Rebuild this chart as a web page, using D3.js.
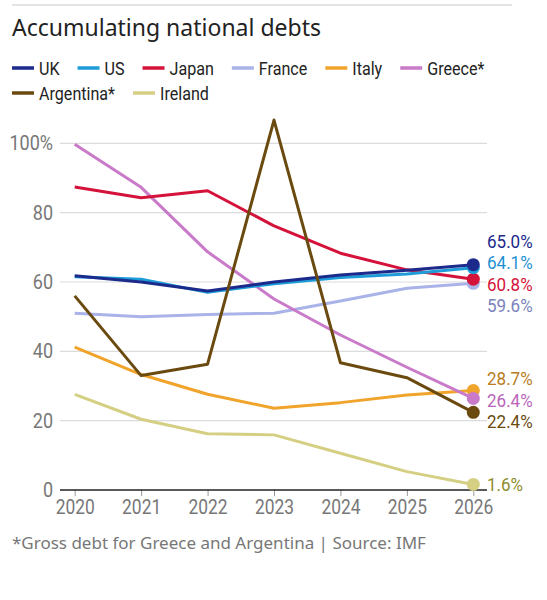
<!DOCTYPE html>
<html lang="en">
<head>
<meta charset="UTF-8">
<title>Accumulating national debts</title>
<script src="https://cdn.jsdelivr.net/npm/d3@7"></script>
<style>
  body{margin:0;background:#fff;}
  .narrow, .narrow text{font-family:Roboto,"Liberation Sans",sans-serif;}
  .grid line{stroke:#dcdcdc;stroke-width:1.2;}
</style>
</head>
<body>
<div id="root"></div>
<script>
  // data
  let years = [2020,2021,2022,2023,2024,2025,2026]
  let countries = ["UK","US","Japan","France","Italy","Greece*","Argentina*","Ireland"]
  let colors = ["#1c2a8c","#1e9cd8","#d5123a","#a9b3e8","#f1a42b","#c97ac9","#6b4a10","#d4cf82"]
  let labelColors = ["#1c2a8c","#1e90cf","#d5123a","#7a82bc","#b87d1c","#b964b9","#6b4a10","#8e8b2c"]
  let uk = [61.8,60.0,57.4,60.0,62.0,63.4,65.0]
  let us = [61.5,60.8,57.0,59.5,61.3,62.3,64.1]
  let japan = [87.4,84.3,86.3,76.2,68.3,63.5,60.8]
  let france = [51.0,50.0,50.6,51.0,54.5,58.2,59.6]
  let italy = [41.2,33.3,27.6,23.6,25.2,27.4,28.7]
  let greece = [99.7,87.3,68.7,55.1,44.7,35.4,26.4]
  let argentina = [56.0,33.0,36.3,106.7,36.7,32.4,22.4]
  let ireland = [27.6,20.4,16.2,15.9,10.6,5.3,1.6]
  let yTicks = [0,20,40,60,80,100]

  let seriesValues = [uk,us,japan,france,italy,greece,argentina,ireland]
  let series = countries.map((c,i)=>({name:c,values:seriesValues[i],color:colors[i],labelColor:labelColors[i]}))
  let drawOrder = ["France","Ireland","Italy","Greece*","Japan","US","UK","Argentina*"]

  let width=547,height=600
  let svg = d3.select("#root").append("svg").attr("width",width).attr("height",height)

  // squeeze text horizontally to mimic a condensed face
  function condense(sel,k){
      sel.each(function(){
          let w = this.getComputedTextLength()
          d3.select(this).attr("textLength",w*k).attr("lengthAdjust","spacingAndGlyphs")
      })
  }

  // top rule + title
  svg.append("line").attr("x1",12).attr("x2",512).attr("y1",5).attr("y2",5)
     .attr("stroke","#c8c8c8").attr("stroke-width",1)
  svg.append("text").attr("x",12).attr("y",36).text("Accumulating national debts")
     .style("font-family","'Noto Sans',sans-serif").style("font-size","23px").attr("fill","#222")

  // legend, flowed by measured text width
  let lg = svg.append("g").attr("class","narrow")
  let lx=12, ly=68
  let legK = 0.87
  series.forEach(s=>{
      let item = lg.append("g")
      item.append("line").attr("x1",0).attr("x2",22).attr("y1",0).attr("y2",0)
          .attr("stroke",s.color).attr("stroke-width",3.5)
      let t = item.append("text").attr("x",27).attr("y",6.5).text(s.name)
          .style("font-size","18.5px").attr("fill","#222")
      let w = 27 + t.node().getComputedTextLength()*legK
      condense(t,legK)
      if(lx + w > 530){ lx = 12; ly += 25 }
      item.attr("transform","translate("+lx+","+ly+")")
      lx += w + 18
  })

  // scales
  let x = d3.scalePoint().domain(years).range([74.7,473.3])
  let y = d3.scaleLinear().domain([0,100]).range([490,143.3])

  // grid
  let grid = svg.append("g").attr("class","grid")
  grid.selectAll("line").data(yTicks.filter(d=>d>0)).join("line")
      .attr("x1",60).attr("x2",487).attr("y1",d=>y(d)).attr("y2",d=>y(d))

  // y labels
  let yAxis = d3.axisLeft(y).tickValues(yTicks).tickSize(0).tickPadding(7)
      .tickFormat(d=>d===100?"100%":d)
  let yg = svg.append("g").attr("transform","translate(60,0)").call(yAxis)
  yg.attr("font-family",null).attr("class","narrow")
  yg.select(".domain").remove()
  yg.selectAll("text").style("font-size","20px").attr("fill","#777")
  condense(yg.selectAll("text"),0.9)

  // x axis
  let xAxis = d3.axisBottom(x).tickSize(6).tickPadding(4)
  let xg = svg.append("g").attr("transform","translate(0,490)").call(xAxis)
  xg.attr("font-family",null).attr("class","narrow")
  xg.select(".domain").remove()
  xg.selectAll(".tick line").attr("stroke","#999")
  xg.selectAll("text").style("font-size","20px").attr("fill","#777")
  condense(xg.selectAll("text"),0.87)
  svg.append("line").attr("x1",60).attr("x2",487).attr("y1",y(0)).attr("y2",y(0))
     .attr("stroke","#222").attr("stroke-width",1.5)

  // lines
  let line = d3.line().x((d,i)=>x(years[i])).y(d=>y(d))
  let ordered = drawOrder.map(n=>series.find(s=>s.name===n))
  svg.append("g").selectAll("path").data(ordered).join("path")
     .attr("d",d=>line(d.values)).attr("fill","none")
     .attr("stroke",d=>d.color).attr("stroke-width",3).attr("stroke-linejoin","round")

  // end dots
  let last = years.length-1
  svg.append("g").selectAll("circle").data(ordered).join("circle")
     .attr("cx",x(years[last])).attr("cy",d=>y(d.values[last])).attr("r",6.5)
     .attr("fill",d=>d.color)

  // end labels with simple dodge
  let labs = series.map(s=>({s:s,y0:y(s.values[last])})).sort((a,b)=>a.y0-b.y0)
  let gap = 21.5
  let clusters = labs.map(l=>({items:[l],c:l.y0}))
  let moved = true
  while(moved){
      moved = false
      for(let i=0;i<clusters.length-1;i++){
          let a=clusters[i], b=clusters[i+1]
          let aBot = a.c + (a.items.length-1)*gap/2
          let bTop = b.c - (b.items.length-1)*gap/2
          if(bTop - aBot < gap){
              let items = a.items.concat(b.items)
              let c = d3.mean(items,d=>d.y0)
              clusters.splice(i,2,{items:items,c:c})
              moved = true
              break
          }
      }
  }
  clusters.forEach(cl=>{
      cl.items.forEach((l,j)=>{ l.y = cl.c + (j-(cl.items.length-1)/2)*gap })
  })
  let endLabels = svg.append("g").attr("class","narrow").selectAll("text").data(labs).join("text")
     .attr("x",487).attr("y",d=>d.y).attr("dy","0.35em")
     .text(d=>d.s.values[last].toFixed(1)+"%")
     .style("font-size","18.5px").attr("fill",d=>d.s.labelColor)
  condense(endLabels,0.92)

  // footnote
  svg.append("text").attr("x",12).attr("y",549)
     .text("*Gross debt for Greece and Argentina | Source: IMF")
     .style("font-family","'Noto Sans',sans-serif").style("font-size","17px").attr("fill","#777")
</script>
</body>
</html>
